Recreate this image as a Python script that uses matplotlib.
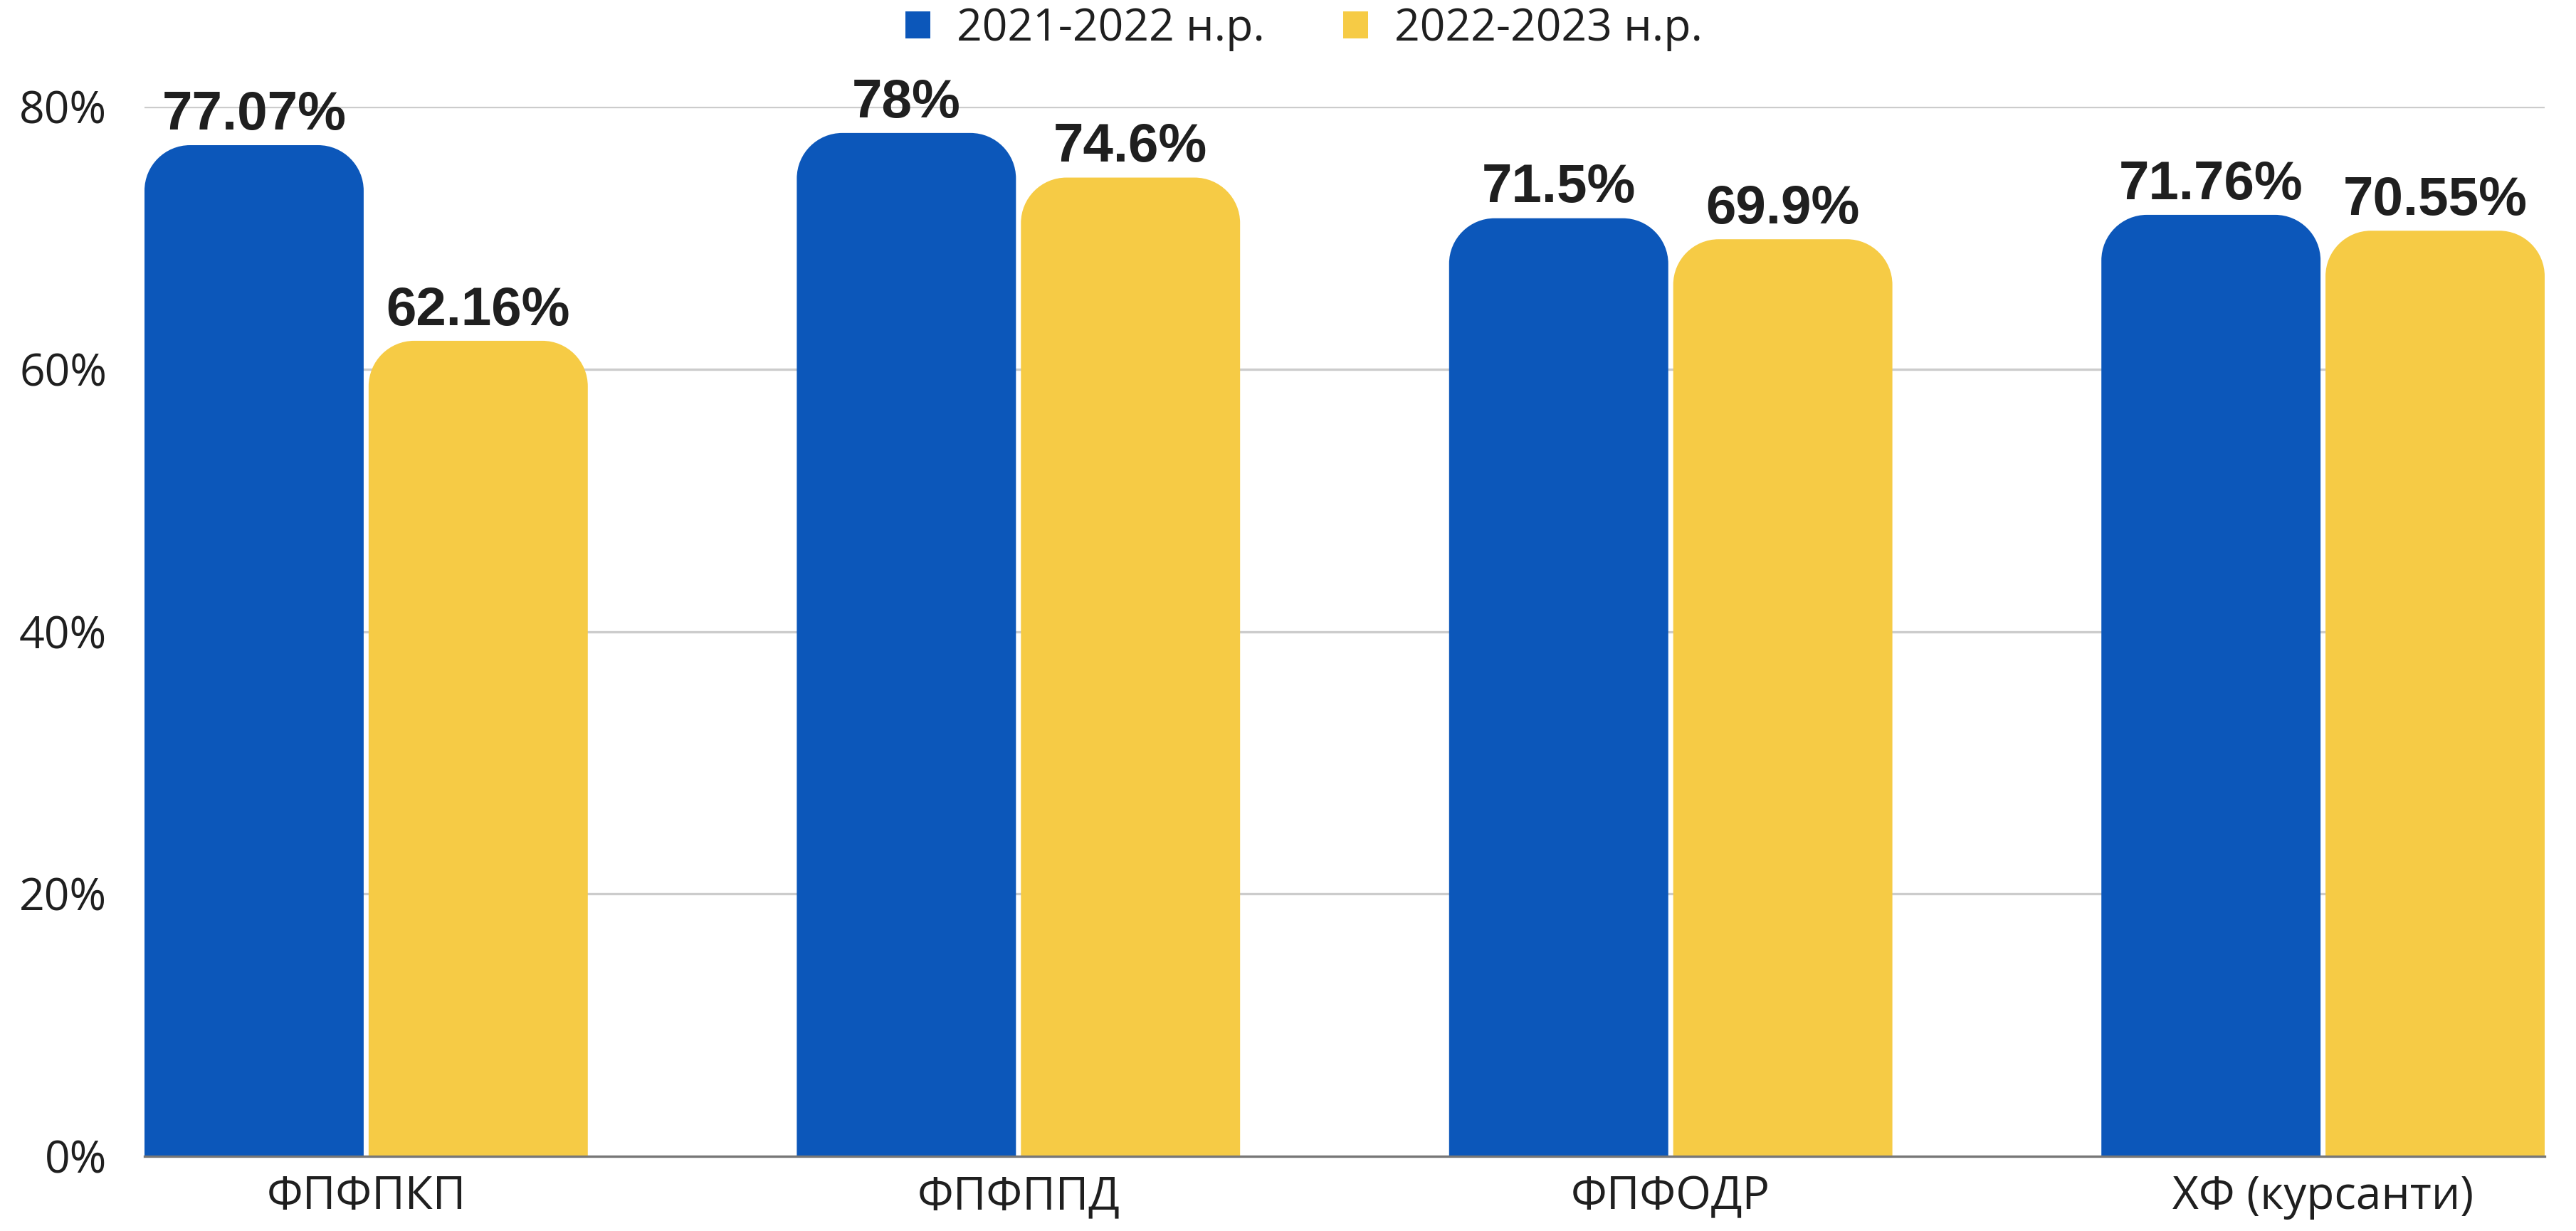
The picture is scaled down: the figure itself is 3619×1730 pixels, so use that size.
import matplotlib
matplotlib.use("Agg")
import matplotlib.pyplot as plt
import numpy as np
from matplotlib.path import Path
from matplotlib.patches import PathPatch, Patch

categories = ["ФПФПКП", "ФПФППД", "ФПФОДР", "ХФ (курсанти)"]
series_names = ["2021-2022 н.р.", "2022-2023 н.р."]
values_2122 = [77.07, 78, 71.5, 71.76]
values_2223 = [62.16, 74.6, 69.9, 70.55]
value_labels_2122 = ["77.07%", "78%", "71.5%", "71.76%"]
value_labels_2223 = ["62.16%", "74.6%", "69.9%", "70.55%"]
yticks = [0, 20, 40, 60, 80]
ytick_labels = ["0%", "20%", "40%", "60%", "80%"]

BLUE = "#0C57BA"
YELLOW = "#F6CB45"
TXT = "#1f1f1f"

W, H, DPI = 3619, 1730, 100
fig = plt.figure(figsize=(W / DPI, H / DPI), dpi=DPI)
ax = fig.add_axes([203 / W, 1 - 1625 / H, (3575 - 203) / W, (1625 - 150) / H])

x = np.arange(len(categories))
bw = 0.336
gap = 0.0076
off = (bw + gap) / 2
b1 = ax.bar(x - off, values_2122, bw, color=BLUE, label=series_names[0], zorder=3)
b2 = ax.bar(x + off, values_2223, bw, color=YELLOW, label=series_names[1], zorder=3)

ax.set_xlim(-off - bw / 2, x[-1] + off + bw / 2)
ax.set_ylim(0, 80)
ax.set_yticks(yticks)
ax.set_yticklabels(ytick_labels)
ax.set_xticks(x)
ax.set_xticklabels(categories)

for s in ["top", "right", "left"]:
    ax.spines[s].set_visible(False)
ax.spines["bottom"].set_color("#777777")
ax.spines["bottom"].set_linewidth(2.4)
ax.spines["bottom"].set_zorder(4)
ax.yaxis.grid(True, color="#cccccc", linewidth=2.4, zorder=0)
ax.set_axisbelow(True)
ax.tick_params(axis="both", length=0)
ax.tick_params(axis="y", pad=38, labelsize=45, labelcolor=TXT)
ax.tick_params(axis="x", pad=18, labelsize=46, labelcolor=TXT)
for lab in ax.get_xticklabels() + ax.get_yticklabels():
    lab.set_fontfamily("Open Sans")

# rounded top corners (radius in pixels converted to data units)
fig.canvas.draw()
px_per_x = ax.transData.transform((1, 0))[0] - ax.transData.transform((0, 0))[0]
px_per_y = ax.transData.transform((0, 1))[1] - ax.transData.transform((0, 0))[1]
r_px = 64
rx = r_px / px_per_x
ry = r_px / px_per_y
k = 0.5523

def rounded(rect):
    x0, y0 = rect.get_x(), rect.get_y()
    w, h = rect.get_width(), rect.get_height()
    x1, y1 = x0 + w, y0 + h
    verts = [
        (x0, y0), (x0, y1 - ry),
        (x0, y1 - ry + k * ry), (x0 + rx - k * rx, y1), (x0 + rx, y1),
        (x1 - rx, y1),
        (x1 - rx + k * rx, y1), (x1, y1 - ry + k * ry), (x1, y1 - ry),
        (x1, y0), (x0, y0),
    ]
    codes = [Path.MOVETO, Path.LINETO,
             Path.CURVE4, Path.CURVE4, Path.CURVE4,
             Path.LINETO,
             Path.CURVE4, Path.CURVE4, Path.CURVE4,
             Path.LINETO, Path.CLOSEPOLY]
    p = PathPatch(Path(verts, codes), facecolor=rect.get_facecolor(),
                  edgecolor="none", zorder=3)
    rect.set_visible(False)
    ax.add_patch(p)

for rect in list(b1) + list(b2):
    rounded(rect)

for bars, labels in ((b1, value_labels_2122), (b2, value_labels_2223)):
    for rect, lab in zip(bars, labels):
        ax.annotate(lab, (rect.get_x() + rect.get_width() / 2, rect.get_height()),
                    xytext=(0, 16), textcoords="offset points",
                    ha="center", va="baseline", fontsize=55,
                    fontfamily="Liberation Sans", fontweight="bold",
                    color=TXT, clip_on=False, zorder=5)

handles = [Patch(facecolor=BLUE, edgecolor="none"),
           Patch(facecolor=YELLOW, edgecolor="none")]
leg = fig.legend(handles=handles, labels=series_names, loc="center",
                 bbox_to_anchor=(1832 / W, 1 - 41 / H), ncol=2, frameon=False,
                 prop={"family": "Open Sans", "size": 45},
                 handlelength=0.56, handleheight=0.56, handletextpad=0.6,
                 columnspacing=1.75, borderaxespad=0, borderpad=0)
for t in leg.get_texts():
    t.set_color(TXT)

fig.savefig("out.png", dpi=DPI, facecolor="white")
